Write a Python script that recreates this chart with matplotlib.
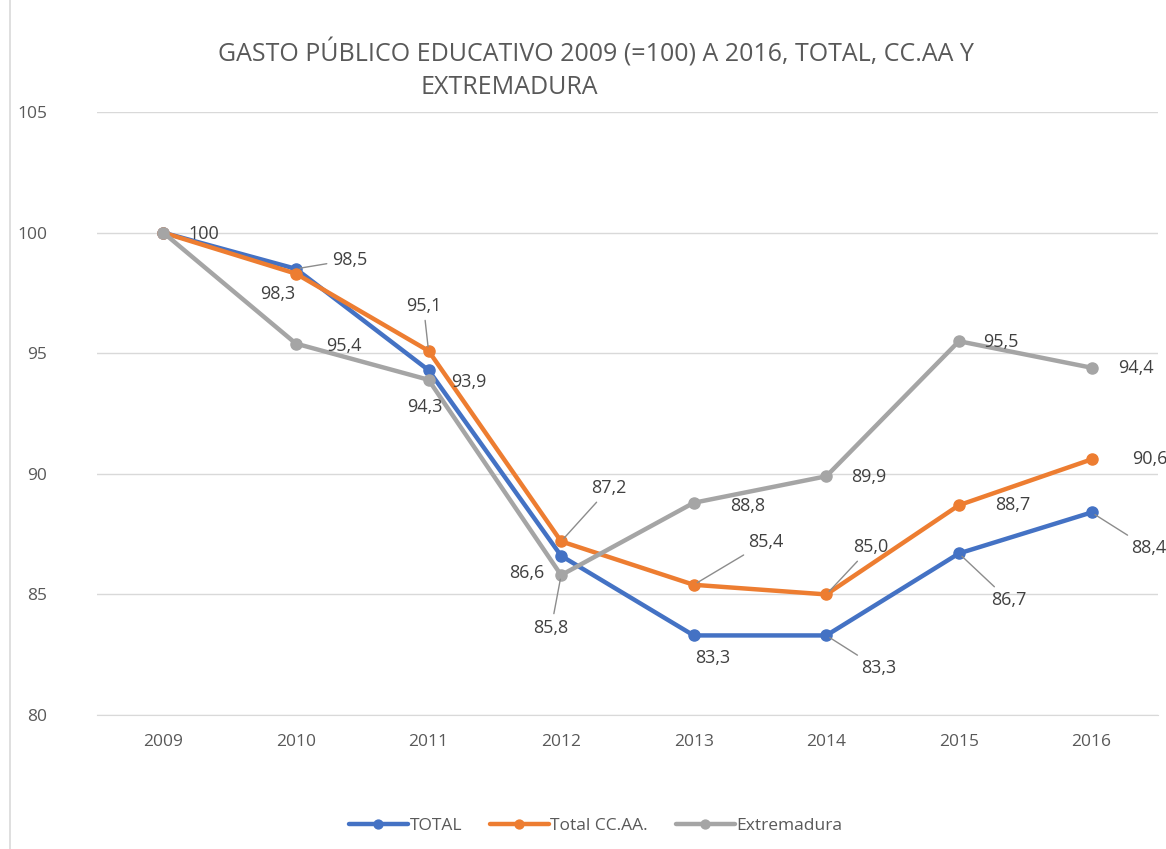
import matplotlib
matplotlib.use('Agg')
import matplotlib.pyplot as plt
from matplotlib.lines import Line2D

plt.rcParams['font.family'] = ['Open Sans', 'DejaVu Sans']

YEARS = ['2009', '2010', '2011', '2012', '2013', '2014', '2015', '2016']
TOTAL = [100, 98.5, 94.3, 86.6, 83.3, 83.3, 86.7, 88.4]
CCAA = [100, 98.3, 95.1, 87.2, 85.4, 85.0, 88.7, 90.6]
EXTREMADURA = [100, 95.4, 93.9, 85.8, 88.8, 89.9, 95.5, 94.4]
SERIES = ['TOTAL', 'Total CC.AA.', 'Extremadura']
COLORS = ['#4472C4', '#ED7D31', '#A5A5A5']

# desplazamiento de etiquetas (px) y si llevan línea guía; None = sin etiqueta
OFF_TOTAL = [None, (54, 9, True), (-4, -37, False), (-34, -17, False),
             (19, -23, False), (52, -33, True), (50, -47, True), (57, -36, True)]
OFF_CCAA = [(40, -1, False), (-18, -20, False), (-5, 45, True), (48, 53, True),
            (72, 43, True), (44, 47, True), (54, 0, False), (58, 0, False)]
OFF_EXT = [None, (48, -2, False), (40, -2, False), (-10, -53, True),
           (54, -3, False), (42, -1, False), (42, -1, False), (44, 0, False)]

fig = plt.figure(figsize=(11.66, 8.49), dpi=100)
ax = fig.add_axes([0.0832, 0.1578, 0.9098, 0.7102])
x = list(range(len(YEARS)))

for vals, col, name in zip([TOTAL, CCAA, EXTREMADURA], COLORS, SERIES):
    ax.plot(x, vals, color=col, lw=3.2, marker='o', ms=8, label=name,
            solid_capstyle='round', zorder=3)

for vals, offs in zip([TOTAL, CCAA, EXTREMADURA], [OFF_TOTAL, OFF_CCAA, OFF_EXT]):
    for i, (v, off) in enumerate(zip(vals, offs)):
        if off is None:
            continue
        dx, dy, lead = off
        txt = f'{v:.0f}' if v == 100 else f'{v:.1f}'.replace('.', ',')
        kw = {}
        if lead:
            kw['arrowprops'] = dict(arrowstyle='-', color='#8c8c8c', lw=1,
                                    shrinkA=2, shrinkB=3)
        ax.annotate(txt, (i, v), xytext=(dx, dy), textcoords='offset pixels',
                    ha='center', va='center', fontsize=13, color='#404040',
                    zorder=4, **kw)

ax.set_xlim(-0.5, len(YEARS) - 0.5)
ax.set_ylim(80, 105)
ax.set_yticks([80, 85, 90, 95, 100, 105])
ax.set_xticks(x)
ax.set_xticklabels(YEARS)
ax.tick_params(axis='both', length=0, labelsize=12.5, colors='#595959')
ax.tick_params(axis='y', pad=36)
ax.tick_params(axis='x', pad=14)
ax.grid(axis='y', color='#d9d9d9', lw=1)
ax.set_axisbelow(True)
for s in ['top', 'right', 'left']:
    ax.spines[s].set_visible(False)
ax.spines['bottom'].set_color('#d9d9d9')

fig.text(0.511, 0.938, 'GASTO PÚBLICO EDUCATIVO 2009 (=100) A 2016, TOTAL, CC.AA Y',
         ha='center', va='center', fontsize=18, color='#595959')
fig.text(0.437, 0.897, 'EXTREMADURA', ha='center', va='center',
         fontsize=18, color='#595959')

leg = ax.legend(loc='upper center', bbox_to_anchor=(0.47, -0.145), ncol=3,
                frameon=False, fontsize=12.5, handlelength=3.4,
                columnspacing=1.6, handletextpad=0.1, markerscale=0.8)
for t in leg.get_texts():
    t.set_color('#595959')

fig.add_artist(Line2D([0.009, 0.009], [0, 1], color='#d9d9d9', lw=1.2,
                      transform=fig.transFigure))

fig.savefig('out.png', dpi=100, facecolor='white')
